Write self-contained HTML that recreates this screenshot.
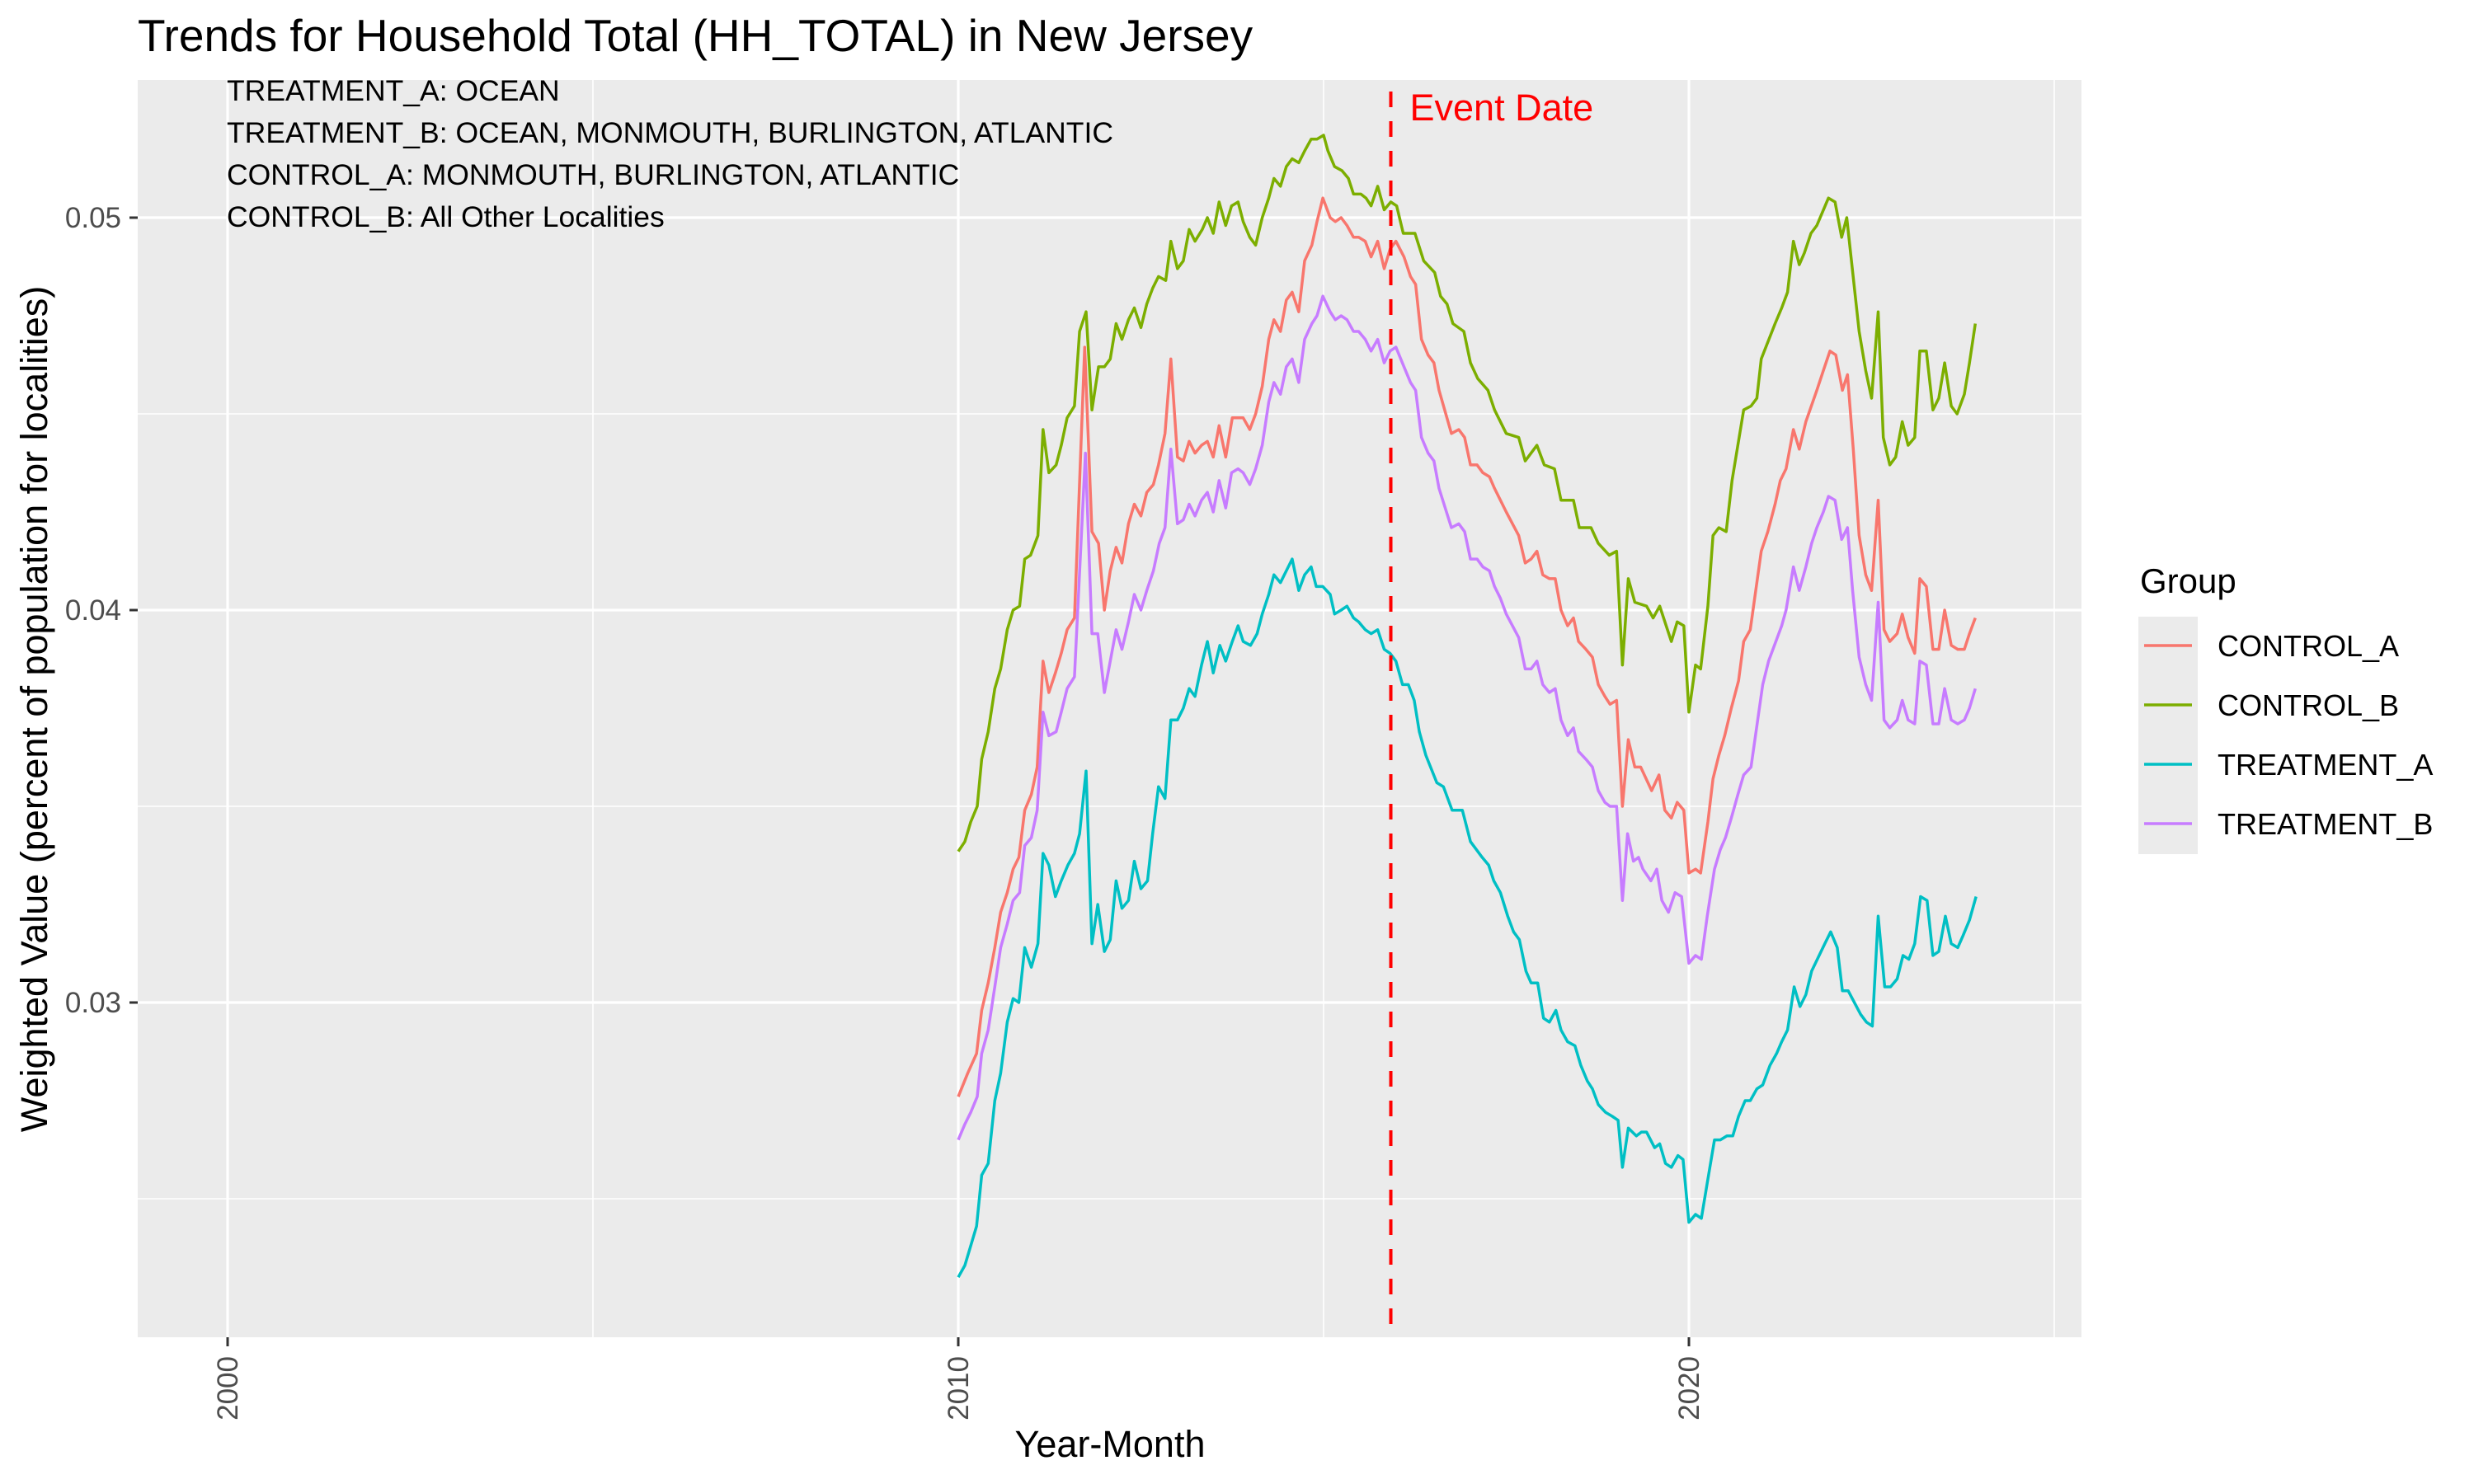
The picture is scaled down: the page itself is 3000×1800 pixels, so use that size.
<!DOCTYPE html>
<html><head><meta charset="utf-8"><style>
html,body{margin:0;padding:0;background:#fff;}
svg{display:block;font-family:"Liberation Sans",Arial,sans-serif;}
</style></head><body>
<svg id="chart" width="3000" height="1800" viewBox="0 0 3000 1800" xmlns="http://www.w3.org/2000/svg">
<rect x="0" y="0" width="3000" height="1800" fill="#fff"/>
<text x="167" y="62" font-size="55" fill="#000">Trends for Household Total (HH_TOTAL) in New Jersey</text>
<rect x="167" y="97" width="2357" height="1525" fill="#EBEBEB"/>
<g id="grid"></g>
<g id="series"></g>
<g id="axes"></g>
<g font-size="35.5" fill="#000">
<text x="275" y="122">TREATMENT_A: OCEAN</text>
<text x="275" y="173">TREATMENT_B: OCEAN, MONMOUTH, BURLINGTON, ATLANTIC</text>
<text x="275" y="224">CONTROL_A: MONMOUTH, BURLINGTON, ATLANTIC</text>
<text x="275" y="275">CONTROL_B: All Other Localities</text>
</g>
<text x="1346" y="1767" font-size="45" text-anchor="middle" fill="#000">Year-Month</text>
<text transform="translate(57,860) rotate(-90)" font-size="45" text-anchor="middle" fill="#000">Weighted Value (percent of population for localities)</text>
<g>
<text x="2595" y="719" font-size="42" fill="#000">Group</text>
<rect x="2593" y="748" width="72" height="288" fill="#EBEBEB"/>
<g id="legend-entries"></g>
</g>
</svg>
<script>
const controlBDates=[2010.0,2010.09,2010.17,2010.26,2010.32,2010.41,2010.5,2010.58,2010.67,2010.75,2010.84,2010.91,2010.99,2011.09,2011.16,2011.24,2011.34,2011.41,2011.49,2011.59,2011.66,2011.75,2011.83,2011.92,2012.0,2012.08,2012.16,2012.24,2012.33,2012.41,2012.5,2012.58,2012.66,2012.74,2012.84,2012.91,2013.0,2013.08,2013.16,2013.24,2013.34,2013.41,2013.49,2013.57,2013.66,2013.74,2013.83,2013.9,2013.99,2014.07,2014.16,2014.25,2014.32,2014.41,2014.49,2014.57,2014.66,2014.74,2014.83,2014.91,2015.0,2015.06,2015.15,2015.25,2015.34,2015.41,2015.51,2015.58,2015.65,2015.74,2015.83,2015.92,2016.0,2016.09,2016.25,2016.37,2016.52,2016.6,2016.69,2016.77,2016.92,2017.01,2017.11,2017.25,2017.34,2017.5,2017.67,2017.76,2017.92,2018.02,2018.16,2018.25,2018.42,2018.5,2018.66,2018.76,2018.91,2019.01,2019.09,2019.17,2019.26,2019.42,2019.51,2019.6,2019.76,2019.84,2019.93,2020.0,2020.09,2020.16,2020.26,2020.33,2020.41,2020.51,2020.59,2020.75,2020.85,2020.93,2020.99,2021.18,2021.27,2021.35,2021.43,2021.51,2021.58,2021.67,2021.75,2021.91,2022.0,2022.09,2022.16,2022.33,2022.42,2022.5,2022.59,2022.66,2022.75,2022.83,2022.92,2023.0,2023.09,2023.16,2023.25,2023.34,2023.42,2023.5,2023.59,2023.67,2023.77,2023.84,2023.92];
const controlBValues=[.03385,.0341,.0346,.0350,.0362,.0369,.0380,.0385,.0395,.0400,.0401,.0413,.0414,.0419,.0446,.0435,.0437,.0442,.0449,.0452,.0471,.0476,.0451,.0462,.0462,.0464,.0473,.0469,.0474,.0477,.0472,.0478,.0482,.0485,.0484,.0494,.0487,.0489,.0497,.0494,.0497,.0500,.0496,.0504,.0498,.0503,.0504,.0499,.0495,.0493,.0500,.0505,.0510,.0508,.0513,.0515,.0514,.0517,.0520,.0520,.0521,.0517,.0513,.0512,.0510,.0506,.0506,.0505,.0503,.0508,.0502,.0504,.0503,.0496,.0496,.0489,.0486,.0480,.0478,.0473,.0471,.0463,.0459,.0456,.0451,.0445,.0444,.0438,.0442,.0437,.0436,.0428,.0428,.0421,.0421,.0417,.0414,.0415,.0386,.0408,.0402,.0401,.0398,.0401,.0392,.0397,.0396,.0374,.0386,.0385,.0401,.0419,.0421,.0420,.0433,.0451,.0452,.0454,.0464,.0473,.0477,.0481,.0494,.0488,.0491,.0496,.0498,.0505,.0504,.0495,.0500,.0471,.0461,.0454,.0476,.0444,.0437,.0439,.0448,.0442,.0444,.0466,.0466,.0451,.0454,.0463,.0452,.0450,.0455,.0463,.0473];

const controlADates=[2010.0,2010.13,2010.25,2010.32,2010.41,2010.5,2010.58,2010.67,2010.75,2010.83,2010.91,2011.0,2011.08,2011.16,2011.24,2011.33,2011.41,2011.49,2011.59,2011.73,2011.83,2011.92,2012.0,2012.08,2012.16,2012.24,2012.33,2012.41,2012.5,2012.58,2012.67,2012.74,2012.83,2012.91,2013.0,2013.08,2013.16,2013.24,2013.33,2013.41,2013.49,2013.57,2013.66,2013.75,2013.9,2013.99,2014.07,2014.16,2014.25,2014.32,2014.41,2014.49,2014.57,2014.66,2014.74,2014.84,2014.91,2014.99,2015.09,2015.16,2015.24,2015.32,2015.41,2015.48,2015.57,2015.65,2015.74,2015.83,2015.91,2015.99,2016.1,2016.19,2016.26,2016.34,2016.43,2016.51,2016.58,2016.75,2016.85,2016.93,2017.01,2017.1,2017.18,2017.27,2017.34,2017.42,2017.5,2017.67,2017.76,2017.84,2017.92,2018.0,2018.09,2018.17,2018.25,2018.34,2018.42,2018.49,2018.59,2018.68,2018.76,2018.85,2018.92,2019.01,2019.09,2019.17,2019.26,2019.34,2019.49,2019.59,2019.67,2019.76,2019.84,2019.93,2020.0,2020.09,2020.16,2020.26,2020.33,2020.41,2020.49,2020.58,2020.68,2020.75,2020.84,2020.99,2021.08,2021.18,2021.25,2021.33,2021.43,2021.51,2021.6,2021.75,2021.84,2021.93,2022.01,2022.1,2022.17,2022.25,2022.33,2022.42,2022.5,2022.59,2022.67,2022.75,2022.85,2022.92,2023.0,2023.09,2023.16,2023.25,2023.34,2023.42,2023.5,2023.59,2023.68,2023.77,2023.84,2023.92];
const controlAValues=[.0276,.0282,.0287,.0298,.0305,.0314,.0323,.0328,.0334,.0337,.0349,.0353,.0360,.0387,.0379,.0384,.0389,.0395,.0398,.0467,.0420,.0417,.0400,.0410,.0416,.0412,.0422,.0427,.0424,.0430,.0432,.0437,.0445,.0464,.0439,.0438,.0443,.0440,.0442,.0443,.0439,.0447,.0439,.0449,.0449,.0446,.0450,.0457,.0469,.0474,.0471,.0479,.0481,.0476,.0489,.0493,.0499,.0505,.0500,.0499,.0500,.0498,.0495,.0495,.0494,.0490,.0494,.0487,.0492,.0494,.0490,.0485,.0483,.0469,.0465,.0463,.0456,.0445,.0446,.0444,.0437,.0437,.0435,.0434,.0431,.0428,.0425,.0419,.0412,.0413,.0415,.0409,.0408,.0408,.0400,.0396,.0398,.0392,.0390,.0388,.0381,.0378,.0376,.0377,.0350,.0367,.0360,.0360,.0354,.0358,.0349,.0347,.0351,.0349,.0333,.0334,.0333,.0346,.0357,.0363,.0368,.0375,.0382,.0392,.0395,.0415,.0420,.0427,.0433,.0436,.0446,.0441,.0448,.0456,.0461,.0466,.0465,.0456,.0460,.0441,.0419,.0409,.0405,.0428,.0395,.0392,.0394,.0399,.0393,.0389,.0408,.0406,.0390,.0390,.0400,.0391,.0390,.0390,.0394,.0398];

const treatmentADates=[2010.0,2010.09,2010.17,2010.25,2010.32,2010.41,2010.5,2010.58,2010.67,2010.75,2010.83,2010.91,2011.0,2011.09,2011.16,2011.24,2011.33,2011.41,2011.5,2011.59,2011.66,2011.75,2011.83,2011.91,2012.0,2012.08,2012.16,2012.24,2012.33,2012.41,2012.5,2012.59,2012.66,2012.74,2012.83,2012.91,2013.0,2013.08,2013.16,2013.24,2013.33,2013.41,2013.49,2013.58,2013.66,2013.75,2013.83,2013.9,2014.0,2014.09,2014.16,2014.25,2014.32,2014.41,2014.49,2014.57,2014.66,2014.74,2014.83,2014.9,2014.99,2015.09,2015.15,2015.24,2015.32,2015.41,2015.48,2015.57,2015.65,2015.74,2015.83,2015.91,2015.99,2016.08,2016.16,2016.24,2016.31,2016.4,2016.55,2016.64,2016.76,2016.9,2017.01,2017.17,2017.26,2017.33,2017.42,2017.52,2017.6,2017.68,2017.77,2017.84,2017.93,2018.01,2018.09,2018.18,2018.25,2018.34,2018.44,2018.52,2018.61,2018.68,2018.76,2018.86,2018.95,2019.03,2019.09,2019.17,2019.28,2019.35,2019.42,2019.53,2019.6,2019.68,2019.76,2019.85,2019.92,2020.0,2020.09,2020.17,2020.25,2020.35,2020.43,2020.52,2020.6,2020.68,2020.77,2020.84,2020.93,2021.01,2021.11,2021.2,2021.27,2021.35,2021.44,2021.52,2021.6,2021.68,2021.86,2021.94,2022.03,2022.1,2022.18,2022.35,2022.43,2022.51,2022.59,2022.68,2022.76,2022.85,2022.93,2023.01,2023.09,2023.17,2023.26,2023.34,2023.42,2023.51,2023.59,2023.68,2023.75,2023.84,2023.93];
const treatmentAValues=[.0230,.0233,.0238,.0243,.0256,.0259,.0275,.0282,.0295,.0301,.0300,.0314,.0309,.0315,.0338,.0335,.0327,.0331,.0335,.0338,.0343,.0359,.0315,.0325,.0313,.0316,.0331,.0324,.0326,.0336,.0329,.0331,.0343,.0355,.0352,.0372,.0372,.0375,.0380,.0378,.0386,.0392,.0384,.0391,.0387,.0392,.0396,.0392,.0391,.0394,.0399,.0404,.0409,.0407,.0410,.0413,.0405,.0409,.0411,.0406,.0406,.0404,.0399,.0400,.0401,.0398,.0397,.0395,.0394,.0395,.0390,.0389,.0387,.0381,.0381,.0377,.0369,.0363,.0356,.0355,.0349,.0349,.0341,.0337,.0335,.0331,.0328,.0322,.0318,.0316,.0308,.0305,.0305,.0296,.0295,.0298,.0293,.0290,.0289,.0284,.0280,.0278,.0274,.0272,.0271,.0270,.0258,.0268,.0266,.0267,.0267,.0263,.0264,.0259,.0258,.0261,.0260,.0244,.0246,.0245,.0254,.0265,.0265,.0266,.0266,.0271,.0275,.0275,.0278,.0279,.0284,.0287,.0290,.0293,.0304,.0299,.0302,.0308,.0315,.0318,.0314,.0303,.0303,.0297,.0295,.0294,.0322,.0304,.0304,.0306,.0312,.0311,.0315,.0327,.0326,.0312,.0313,.0322,.0315,.0314,.0317,.0321,.0327];

const treatmentBDates=[2010.0,2010.09,2010.17,2010.26,2010.32,2010.41,2010.5,2010.58,2010.67,2010.75,2010.84,2010.91,2011.0,2011.08,2011.16,2011.24,2011.34,2011.41,2011.49,2011.59,2011.74,2011.83,2011.91,2012.0,2012.08,2012.16,2012.24,2012.33,2012.41,2012.5,2012.58,2012.67,2012.75,2012.83,2012.91,2013.0,2013.08,2013.16,2013.24,2013.33,2013.41,2013.49,2013.57,2013.66,2013.74,2013.83,2013.9,2013.99,2014.07,2014.16,2014.25,2014.32,2014.41,2014.49,2014.57,2014.66,2014.74,2014.84,2014.91,2014.99,2015.09,2015.16,2015.24,2015.32,2015.41,2015.48,2015.57,2015.65,2015.74,2015.83,2015.91,2015.99,2016.1,2016.19,2016.26,2016.34,2016.43,2016.51,2016.58,2016.75,2016.85,2016.93,2017.01,2017.1,2017.18,2017.27,2017.34,2017.42,2017.5,2017.67,2017.76,2017.84,2017.92,2018.0,2018.09,2018.17,2018.25,2018.34,2018.42,2018.49,2018.59,2018.68,2018.76,2018.85,2018.92,2019.01,2019.09,2019.16,2019.24,2019.31,2019.37,2019.48,2019.56,2019.63,2019.72,2019.81,2019.9,2020.0,2020.09,2020.17,2020.25,2020.35,2020.43,2020.5,2020.58,2020.67,2020.75,2020.85,2021.01,2021.09,2021.27,2021.33,2021.43,2021.51,2021.6,2021.68,2021.75,2021.84,2021.91,2022.0,2022.09,2022.17,2022.24,2022.33,2022.42,2022.5,2022.59,2022.67,2022.75,2022.85,2022.92,2023.0,2023.09,2023.16,2023.25,2023.34,2023.42,2023.5,2023.59,2023.68,2023.77,2023.84,2023.92];
const treatmentBValues=[.0265,.0269,.0272,.0276,.0287,.0293,.0304,.0314,.0320,.0326,.0328,.0340,.0342,.0349,.0374,.0368,.0369,.0374,.0380,.0383,.0440,.0394,.0394,.0379,.0387,.0395,.0390,.0397,.0404,.0400,.0405,.0410,.0417,.0421,.0441,.0422,.0423,.0427,.0424,.0428,.0430,.0425,.0433,.0426,.0435,.0436,.0435,.0432,.0436,.0442,.0453,.0458,.0455,.0462,.0464,.0458,.0469,.0473,.0475,.0480,.0476,.0474,.0475,.0474,.0471,.0471,.0469,.0466,.0469,.0463,.0466,.0467,.0462,.0458,.0456,.0444,.0440,.0438,.0431,.0421,.0422,.0420,.0413,.0413,.0411,.0410,.0406,.0403,.0399,.0393,.0385,.0385,.0387,.0381,.0379,.0380,.0372,.0368,.0370,.0364,.0362,.0360,.0354,.0351,.0350,.0350,.0326,.0343,.0336,.0337,.0334,.0331,.0334,.0326,.0323,.0328,.0327,.0310,.0312,.0311,.0322,.0334,.0339,.0342,.0347,.0353,.0358,.0360,.0381,.0387,.0396,.0400,.0411,.0405,.0411,.0417,.0421,.0425,.0429,.0428,.0418,.0421,.0405,.0388,.0381,.0377,.0402,.0372,.0370,.0372,.0377,.0372,.0371,.0387,.0386,.0371,.0371,.0380,.0372,.0371,.0372,.0375,.0380];

const seriesNames=["CONTROL_A","CONTROL_B","TREATMENT_A","TREATMENT_B"];
const seriesColors=["#F8766D","#7CAE00","#00BFC4","#C77CFF"];
const xTickYears=[2000,2010,2020];
const xMinorYears=[2005,2015,2025];
const yTickValues=[0.03,0.04,0.05];
const yTickLabels=["0.03","0.04","0.05"];
const yMinorValues=[0.025,0.035,0.045];
const eventYear=2015.92;

const NS="http://www.w3.org/2000/svg";
const PL=167,PR=2524,PT=97,PB=1622;
function xScale(yr){return 1162+(yr-2010)*88.6;}
function yScale(v){return 264+(0.05-v)*47600;}
function mk(tag,attrs,parent){const e=document.createElementNS(NS,tag);for(const k in attrs)e.setAttribute(k,attrs[k]);parent.appendChild(e);return e;}

const grid=document.getElementById('grid');
yMinorValues.forEach(v=>{const l=mk('line',{x1:PL,x2:PR,y1:yScale(v),y2:yScale(v),stroke:'#fff','stroke-width':1.6},grid);

});
xMinorYears.forEach(y=>{const l=mk('line',{x1:xScale(y),x2:xScale(y),y1:PT,y2:PB,stroke:'#fff','stroke-width':1.6},grid);

});
yTickValues.forEach(v=>{const l=mk('line',{x1:PL,x2:PR,y1:yScale(v),y2:yScale(v),stroke:'#fff','stroke-width':3.2},grid);

});
xTickYears.forEach(y=>{const l=mk('line',{x1:xScale(y),x2:xScale(y),y1:PT,y2:PB,stroke:'#fff','stroke-width':3.2},grid);

});

const sg=document.getElementById('series');
const allDates=[controlADates,controlBDates,treatmentADates,treatmentBDates];
const allValues=[controlAValues,controlBValues,treatmentAValues,treatmentBValues];
allDates.forEach((ds,i)=>{
  const vs=allValues[i];
  const pts=ds.map((d,j)=>xScale(d).toFixed(1)+','+yScale(vs[j]).toFixed(1)).join(' ');
  const p=mk('polyline',{points:pts,fill:'none',stroke:seriesColors[i],'stroke-width':3.5,'stroke-linejoin':'round'},sg);
  
  
});
const ev=mk('line',{x1:xScale(eventYear),x2:xScale(eventYear),y1:PT+14,y2:PB,stroke:'#FF0000','stroke-width':4,'stroke-dasharray':'19,17'},sg);


const et=mk('text',{x:xScale(eventYear)+23,y:146,'font-size':45,fill:'#FF0000'},sg);
et.textContent='Event Date';



const ax=document.getElementById('axes');
yTickValues.forEach((v,i)=>{
  const t=mk('line',{x1:157,x2:167,y1:yScale(v),y2:yScale(v),stroke:'#333','stroke-width':3},ax);
  
  
  const tx=mk('text',{x:147,y:yScale(v)+12,'font-size':35,'text-anchor':'end',fill:'#4D4D4D'},ax);
  tx.textContent=yTickLabels[i];
  
  
});
xTickYears.forEach(y=>{
  const t=mk('line',{x1:xScale(y),x2:xScale(y),y1:PB,y2:PB+11,stroke:'#333','stroke-width':3},ax);
  
  
  const tx=mk('text',{transform:'translate('+(xScale(y)+12)+','+(PB+23)+') rotate(-90)','font-size':35,'text-anchor':'end',fill:'#4D4D4D'},ax);
  tx.textContent=String(y);
  
  
});

const lg=document.getElementById('legend-entries');
seriesNames.forEach((n,i)=>{
  const cy=783+i*72;
  const l=mk('line',{x1:2600,x2:2658,y1:cy,y2:cy,stroke:seriesColors[i],'stroke-width':3.5},lg);
  
  
  const t=mk('text',{x:2689,y:cy+13,'font-size':36,fill:'#000'},lg);
  t.textContent=n;
  
  
});
</script>
</body></html>
